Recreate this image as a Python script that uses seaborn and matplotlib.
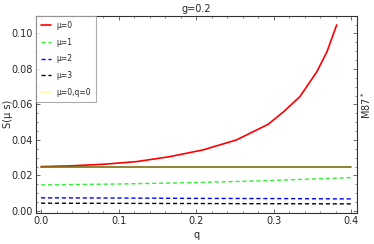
import numpy as np
import pandas as pd
import matplotlib
matplotlib.use('Agg')
import matplotlib.pyplot as plt
from matplotlib.ticker import MultipleLocator, FormatStrFormatter
import seaborn as sns

# Values
q_red = [0.0, 0.037, 0.080, 0.123, 0.166, 0.209, 0.252, 0.293, 0.313, 0.334, 0.356, 0.369, 0.3815]
s_mu0 = [0.0250, 0.0254, 0.0263, 0.0278, 0.0306, 0.0344, 0.0400, 0.0488, 0.0559, 0.0644, 0.0785, 0.0897, 0.1048]

q_flat = [0.0, 0.1, 0.2, 0.3, 0.4]
s_mu1 = [0.0147, 0.0152, 0.0160, 0.0172, 0.0188]
s_mu2 = [0.0074, 0.0073, 0.0071, 0.0070, 0.0068]
s_mu3 = [0.0044, 0.0043, 0.0042, 0.0041, 0.0040]
s_q0 = [0.0250, 0.0250, 0.0250, 0.0250, 0.0250]

sns.set_style("ticks")
plt.rcParams['font.family'] = ['DejaVu Sans']

fig = plt.figure(figsize=(3.74, 2.44), dpi=100)
ax = fig.add_axes([0.0963, 0.128, 0.8582, 0.8077])

sns.lineplot(x=q_red, y=s_mu0, color='red', lw=1.2, label='μ=0', ax=ax)
sns.lineplot(x=q_flat, y=s_mu1, color='#33ee33', lw=1.0, label='μ=1', ax=ax)
ax.lines[-1].set_linestyle((0, (3, 2)))
sns.lineplot(x=q_flat, y=s_mu2, color='blue', lw=1.0, label='μ=2', ax=ax)
ax.lines[-1].set_linestyle((0, (3, 2)))
sns.lineplot(x=q_flat, y=s_mu3, color='black', lw=1.0, label='μ=3', ax=ax)
ax.lines[-1].set_linestyle((0, (3, 2)))
sns.lineplot(x=q_flat, y=s_q0, color='#7d7010', lw=1.2, label='μ=0,q=0', ax=ax)

ax.set_xlim(-0.0065, 0.4077)
ax.set_ylim(-0.001, 0.110)
ax.xaxis.set_major_locator(MultipleLocator(0.1))
ax.xaxis.set_minor_locator(MultipleLocator(0.02))
ax.yaxis.set_major_locator(MultipleLocator(0.02))
ax.yaxis.set_minor_locator(MultipleLocator(0.005))
ax.xaxis.set_major_formatter(FormatStrFormatter('%.1f'))
ax.yaxis.set_major_formatter(FormatStrFormatter('%.2f'))
ax.tick_params(which='both', direction='in', top=True, right=True, color='#555555', labelsize=7, pad=2)
ax.tick_params(which='major', length=3, width=0.6)
ax.tick_params(which='minor', length=1.5, width=0.5)
for s in ax.spines.values():
    s.set_linewidth(0.8)
    s.set_color('#333333')

ax.set_title('g=0.2', fontsize=7, pad=3)
ax.set_xlabel('q', fontsize=7, labelpad=3)
ax.set_ylabel('S(μ s)', fontsize=7)
ax.yaxis.set_label_coords(-0.072, 0.5)

leg = ax.legend(loc='upper left', fontsize=5.5, frameon=True, fancybox=False,
                borderaxespad=0, handlelength=1.3, labelspacing=1.0,
                borderpad=0.7, handletextpad=0.6)
leg.get_frame().set_edgecolor('#999999')
leg.get_frame().set_linewidth(0.8)
leg.get_lines()[-1].set_color('#ffff99')

fig.text(0.978, 0.57, 'M87$^*$', rotation=90, fontsize=7, ha='center', va='center')

fig.savefig('out.png', dpi=100)
